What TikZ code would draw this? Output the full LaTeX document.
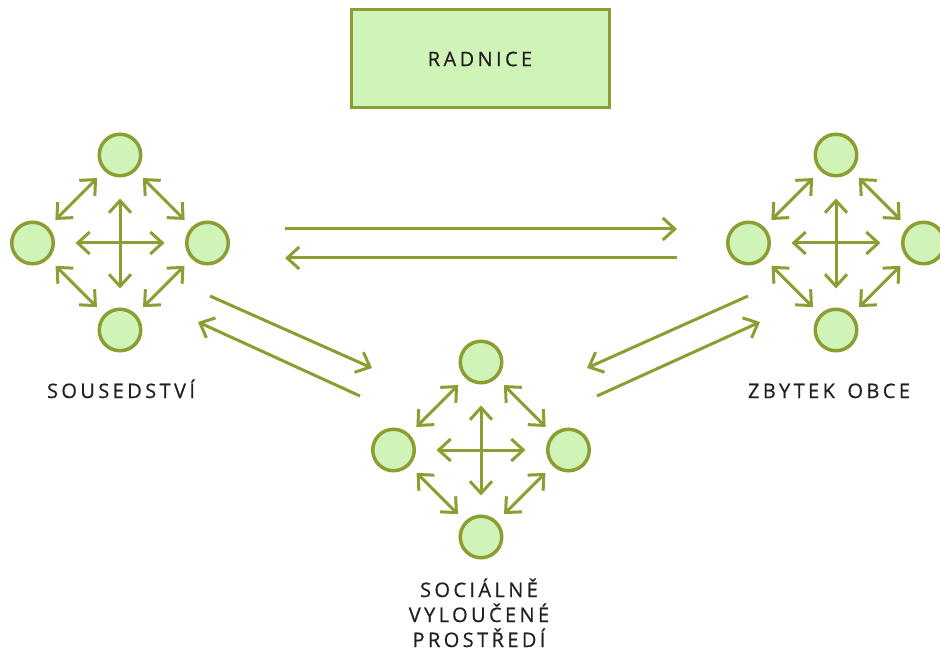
\documentclass[tikz,border=0pt]{standalone}
\usepackage{fontspec}
\setmainfont[LetterSpace=17,FakeBold=0.6]{Open Sans}
\usetikzlibrary{arrows.meta}
\definecolor{olive}{HTML}{8C9D32}
\definecolor{leaf}{HTML}{D0F3B8}
\definecolor{ink}{HTML}{231F20}
\tikzset{
  dot/.style={circle,draw=olive,fill=leaf,line width=3.5pt,minimum size=41.5pt,inner sep=0pt},
  barb/.tip={Straight Barb[length=12pt,width=22pt]},
  link/.style={draw=olive,line width=3pt,-barb},
  dlink/.style={draw=olive,line width=3pt,barb-barb},
  lbl/.style={text=ink,font=\fontsize{20}{25}\selectfont,align=center},
  hall/.style={draw=olive,fill=leaf,line width=3pt,minimum width=258pt,minimum height=98pt,inner sep=0pt},
  cluster/.pic={
    \node[dot] (-t) at (0,-88) {};
    \node[dot] (-l) at (-87.5,0) {};
    \node[dot] (-r) at (87.5,0) {};
    \node[dot] (-b) at (0,87) {};
    \draw[dlink,shorten <=10pt,shorten >=10pt] (-l) -- (-t);
    \draw[dlink,shorten <=10pt,shorten >=10pt] (-t) -- (-r);
    \draw[dlink,shorten <=10pt,shorten >=10pt] (-l) -- (-b);
    \draw[dlink,shorten <=10pt,shorten >=10pt] (-b) -- (-r);
    \draw[dlink,shorten <=20.5pt,shorten >=20.5pt] (-l) -- (-r);
    \draw[dlink,shorten <=21pt,shorten >=19pt] (-t) -- (-b);
  }
}
\begin{document}
\begin{tikzpicture}[x=1pt,y=-1pt]
\useasboundingbox (0,0) rectangle (940,655);
\clip (0,0) rectangle (940,655);
\node[hall,lbl] (radnice) at (480,59) {RADNICE};
\pic (L) at (120,243) {cluster};
\pic (R) at (836,243) {cluster};
\pic (S) at (481,450) {cluster};
\coordinate (a1) at (285,229); \coordinate (a2) at (677,229);
\coordinate (b1) at (677,258); \coordinate (b2) at (285,258);
\coordinate (c1) at (210,296); \coordinate (c2) at (372,368);
\coordinate (d1) at (360,396); \coordinate (d2) at (198,322);
\coordinate (e1) at (748,296); \coordinate (e2) at (587,368);
\coordinate (f1) at (597,396); \coordinate (f2) at (760,322);
\draw[link] (a1) -- (a2);
\draw[link] (b1) -- (b2);
\draw[link] (c1) -- (c2);
\draw[link] (d1) -- (d2);
\draw[link] (e1) -- (e2);
\draw[link] (f1) -- (f2);
\node[lbl,anchor=base] (sous) at (121,398) {SOUSEDSTVÍ};
\node[lbl,anchor=base] (zbytek) at (829,398) {ZBYTEK\hspace{4pt} OBCE};
\node[lbl,anchor=base] (soc) at (479,647) {SOCIÁLNĚ\\VYLOUČENÉ\\PROSTŘEDÍ};
\end{tikzpicture}
\end{document}
